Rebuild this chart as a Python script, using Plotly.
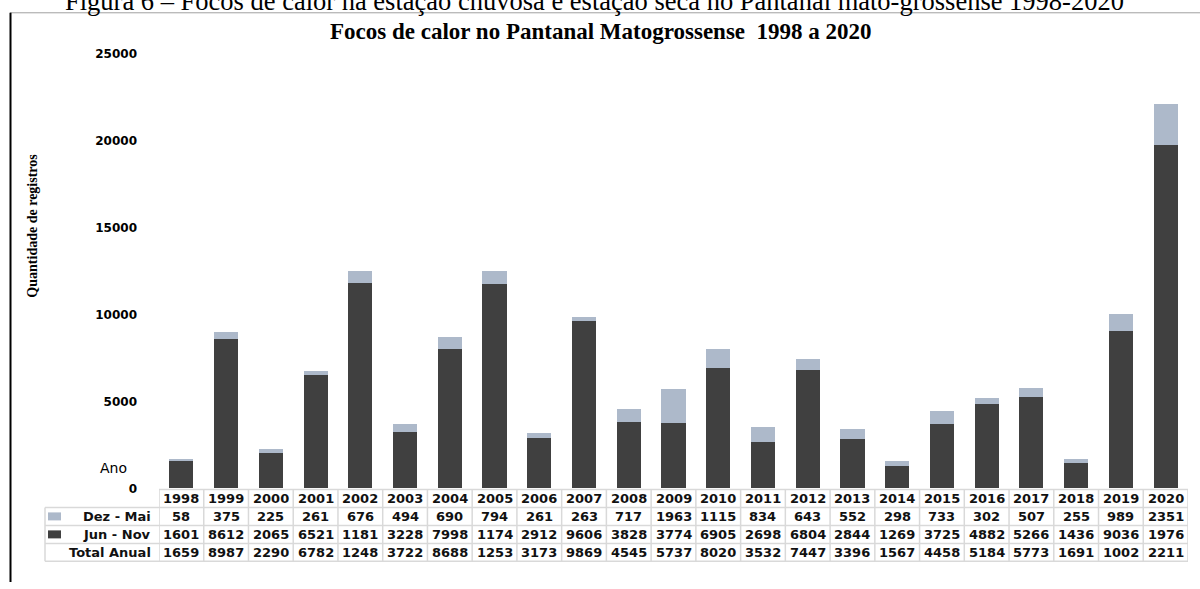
import plotly.graph_objects as go

W, H = 1200, 589

years = [str(y) for y in range(1998, 2021)]
dez_mai = [58, 375, 225, 261, 676, 494, 690, 794, 261, 263, 717, 1963, 1115,
           834, 643, 552, 298, 733, 302, 507, 255, 989, 2351]
jun_nov = [1601, 8612, 2065, 6521, 11810, 3228, 7998, 11740, 2912, 9606, 3828,
           3774, 6905, 2698, 6804, 2844, 1269, 3725, 4882, 5266, 1436, 9036, 19760]
total_anual = [a + b for a, b in zip(dez_mai, jun_nov)]

y_ticks = [0, 5000, 10000, 15000, 20000, 25000]
y_tick_text = ["0", "5000", "10000", "15000", "20000", "25000"]

caption = "Figura 6 – Focos de calor na estação chuvosa e estação seca no Pantanal mato-grossense 1998-2020"
title = "Focos de calor no Pantanal Matogrossense  1998 a 2020"
y_title = "Quantidade de registros"
row_labels = ["Dez - Mai", "Jun - Nov", "Total Anual"]

C_LIGHT = "#adb9ca"
C_DARK = "#404040"
GRID = "#d9d9d9"

# the page is shown with a small vertical offset/squeeze; targets are given in
# screen pixels and converted here
V_SCALE, V_OFF = 0.977, 6.2


def py(t):
    raw = (t - V_OFF) / V_SCALE
    return 1 - raw / H


def px(p):
    return p / W


x_left, x_right = 159, 1188
y_zero, y_top = 488, 53

fig = go.Figure()
idx = list(range(len(years)))
fig.add_trace(go.Bar(x=idx, y=jun_nov, marker=dict(color=C_DARK, line=dict(width=0)),
                     name="Jun - Nov", showlegend=False, hoverinfo="y"))
fig.add_trace(go.Bar(x=idx, y=dez_mai, marker=dict(color=C_LIGHT, line=dict(width=0)),
                     name="Dez - Mai", showlegend=False, hoverinfo="y"))

fig.update_layout(
    width=W, height=H, margin=dict(l=0, r=0, t=0, b=0),
    paper_bgcolor="white", plot_bgcolor="white",
    barmode="stack", bargap=0.46,
    xaxis=dict(domain=[px(x_left), px(x_right)], range=[-0.5, len(years) - 0.5],
               showticklabels=False, showgrid=False, zeroline=False, showline=False,
               fixedrange=True),
    yaxis=dict(domain=[py(y_zero), py(y_top)], range=[0, 25000],
               tickmode="array", tickvals=y_ticks, ticktext=y_tick_text,
               showgrid=False, zeroline=False, showline=False, ticks="",
               ticklabelstandoff=21,
               tickfont=dict(family="DejaVu Sans", size=12, color="#000", weight="bold")),
    font=dict(family="DejaVu Sans", color="#000"),
)

shapes = []
annotations = []

# frame lines
shapes.append(dict(type="line", xref="paper", yref="paper", x0=px(10), x1=1,
                   y0=py(12), y1=py(12), line=dict(color="#a0a0a0", width=1)))
shapes.append(dict(type="line", xref="paper", yref="paper", x0=px(10.5), x1=px(10.5),
                   y0=py(12), y1=0, line=dict(color="#000", width=2)))

# caption and titles
annotations.append(dict(text=caption, xref="paper", yref="paper", x=px(594), y=1 - 11 / H,
                        xanchor="center", yanchor="bottom", showarrow=False,
                        font=dict(family="Liberation Serif", size=26.5, color="#000")))
annotations.append(dict(text=title, xref="paper", yref="paper", x=px(601), y=py(30.5),
                        xanchor="center", yanchor="middle", showarrow=False,
                        font=dict(family="Liberation Serif", size=23, color="#000",
                                  weight="bold")))
annotations.append(dict(text=y_title, xref="paper", yref="paper", x=px(33), y=py(225),
                        xanchor="center", yanchor="middle", showarrow=False, textangle=-90,
                        font=dict(family="Liberation Serif", size=14, color="#000",
                                  weight="bold")))
annotations.append(dict(text="Ano", xref="paper", yref="paper", x=px(113), y=py(468),
                        xanchor="center", yanchor="middle", showarrow=False,
                        font=dict(family="DejaVu Sans", size=14, color="#000")))

# data table
row_edges = [489, 507, 525, 543, 561]
lab_left = 45
tw = dict(color=GRID, width=1.5)
shapes.append(dict(type="line", xref="paper", yref="paper", x0=px(x_left), x1=px(x_right),
                   y0=py(row_edges[0]), y1=py(row_edges[0]), line=tw))
for e in row_edges[1:]:
    shapes.append(dict(type="line", xref="paper", yref="paper", x0=px(lab_left), x1=px(x_right),
                       y0=py(e), y1=py(e), line=tw))
shapes.append(dict(type="line", xref="paper", yref="paper", x0=px(lab_left), x1=px(lab_left),
                   y0=py(row_edges[1]), y1=py(row_edges[-1]), line=tw))
for i in range(len(years) + 1):
    shapes.append(dict(type="line", xref="x", yref="paper", x0=i - 0.5, x1=i - 0.5,
                       y0=py(row_edges[0]), y1=py(row_edges[-1]), line=tw))

cell_font = dict(family="DejaVu Sans", size=13, color="#111", weight="bold")
rows_vals = [years, [str(v)[:4] for v in dez_mai], [str(v)[:4] for v in jun_nov],
             [str(v)[:4] for v in total_anual]]
for r, vals in enumerate(rows_vals):
    yc = py((row_edges[r] + row_edges[r + 1]) / 2)
    for i, t in enumerate(vals):
        annotations.append(dict(text=t, xref="x", yref="paper", x=i, y=yc,
                                xanchor="center", yanchor="middle", showarrow=False,
                                font=cell_font))

for r, lab in enumerate(row_labels):
    yc_p = (row_edges[r + 1] + row_edges[r + 2]) / 2
    annotations.append(dict(text=lab, xref="paper", yref="paper", x=px(153), y=py(yc_p),
                            xanchor="right", yanchor="middle", showarrow=False,
                            font=cell_font))
key_cols = [C_LIGHT, C_DARK]
for r, c in enumerate(key_cols):
    yc_p = (row_edges[r + 1] + row_edges[r + 2]) / 2
    shapes.append(dict(type="rect", xref="paper", yref="paper", x0=px(48), x1=px(61),
                       y0=py(yc_p - 4), y1=py(yc_p + 4), fillcolor=c, line=dict(width=0)))

fig.update_layout(shapes=shapes, annotations=annotations)
fig.write_html("out.html")
